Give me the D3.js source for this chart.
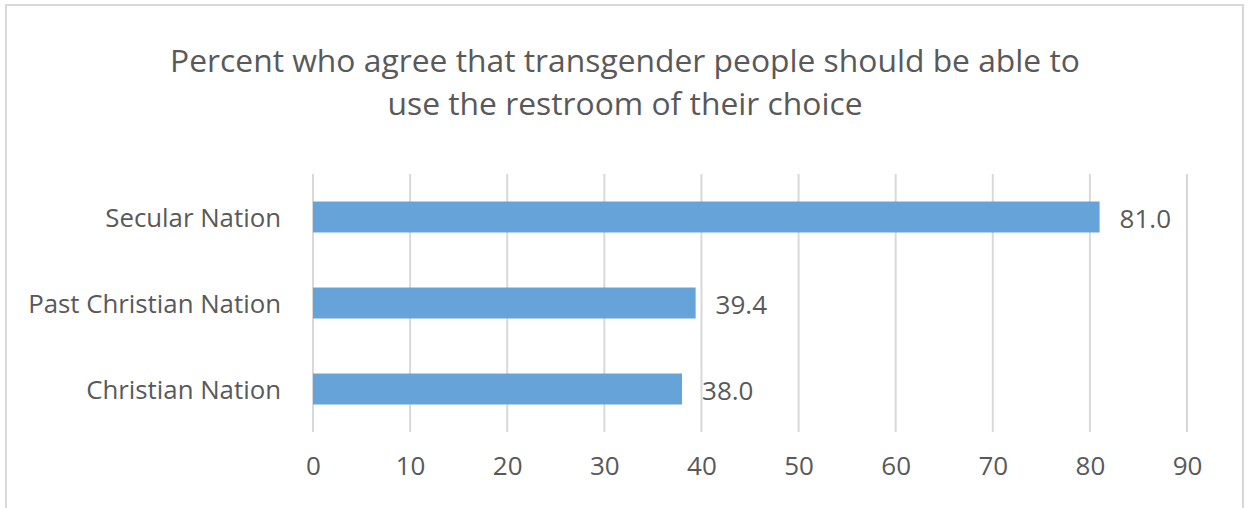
<!DOCTYPE html>
<html>
<head>
<meta charset="utf-8">
<script src="https://cdnjs.cloudflare.com/ajax/libs/d3/7.8.5/d3.min.js"></script>
<style>
  body { margin: 0; background: #fff; }
  text { font-family: "Open Sans", "Noto Sans", sans-serif; fill: #595959; }
</style>
</head>
<body>
<div id="chart"></div>
<script>
// chart data
var categories = ['Secular Nation', 'Past Christian Nation', 'Christian Nation'];
var values = [81.0, 39.4, 38.0];
var ticks = [0, 10, 20, 30, 40, 50, 60, 70, 80, 90];
var titleLines = ['Percent who agree that transgender people should be able to', 'use the restroom of their choice'];

var width = 1248, height = 508;

var svg = d3.select('#chart').append('svg')
    .attr('width', width)
    .attr('height', height);

// outer frame
svg.append('rect')
    .attr('x', 6).attr('y', 5)
    .attr('width', 1237).attr('height', 510)
    .attr('fill', 'none')
    .attr('stroke', '#d9d9d9')
    .attr('stroke-width', 2);

var x = d3.scaleLinear().domain([0, 90]).range([313, 1187]);
var y = d3.scaleBand().domain(categories).range([174, 432]).paddingInner(0.64).paddingOuter(0.32);

// title
svg.selectAll('text.title')
    .data(titleLines)
    .enter().append('text')
      .attr('class', 'title')
      .attr('x', 625)
      .attr('y', function(d, i) { return 72 + i * 43; })
      .attr('text-anchor', 'middle')
      .attr('font-size', '31.8px')
      .text(function(d) { return d; });

// gridlines
svg.selectAll('line.grid')
    .data(ticks)
    .enter().append('line')
      .attr('class', 'grid')
      .attr('x1', function(d) { return x(d); })
      .attr('x2', function(d) { return x(d); })
      .attr('y1', 174)
      .attr('y2', 432)
      .attr('stroke', '#d9d9d9')
      .attr('stroke-width', 2);

// x axis labels
var xAxis = d3.axisBottom(x).tickValues(ticks).tickSize(0).tickPadding(0);
var gx = svg.append('g').attr('transform', 'translate(0,457)').call(xAxis);
gx.select('.domain').remove();
gx.selectAll('text')
    .attr('font-size', '26px')
    .attr('dy', '0.71em')
    .style('font-family', '"Open Sans", "Noto Sans", sans-serif')
    .attr('fill', '#595959');

// y axis labels
var yAxis = d3.axisLeft(y).tickSize(0).tickPadding(32);
var gy = svg.append('g').attr('transform', 'translate(313,2)').call(yAxis);
gy.select('.domain').remove();
gy.selectAll('text')
    .attr('font-size', '25.8px')
    .style('font-family', '"Open Sans", "Noto Sans", sans-serif')
    .attr('fill', '#595959');

// bars
svg.selectAll('rect.bar')
    .data(values)
    .enter().append('rect')
      .attr('class', 'bar')
      .attr('x', x(0))
      .attr('y', function(d, i) { return y(categories[i]); })
      .attr('width', function(d) { return x(d) - x(0); })
      .attr('height', y.bandwidth())
      .attr('fill', '#66a3d9');

// value labels
svg.selectAll('text.val')
    .data(values)
    .enter().append('text')
      .attr('class', 'val')
      .attr('x', function(d) { return x(d) + 20; })
      .attr('y', function(d, i) { return y(categories[i]) + y.bandwidth() / 2 + 2; })
      .attr('dy', '0.35em')
      .attr('font-size', '26px')
      .text(function(d) { return d.toFixed(1); });
</script>
</body>
</html>
